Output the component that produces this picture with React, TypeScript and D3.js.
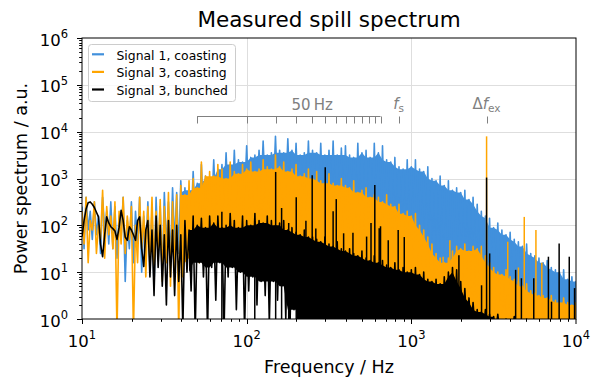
import React, { useEffect, useRef } from 'react'
import * as d3 from 'd3'

const binFreqs = [
  10, 10.59, 11.22, 11.89, 12.59, 13.34, 14.13, 14.96,
  15.85, 16.79, 17.78, 18.84, 19.95, 21.13, 22.39, 23.71,
  25.12, 26.61, 28.18, 29.85, 31.62, 33.5, 35.48, 37.58,
  39.81, 42.17, 44.67, 47.32, 50.12, 53.09, 56.23, 59.57,
  63.1, 66.83, 70.79, 74.99, 79.43, 84.14, 89.13, 94.41,
  100, 105.9, 112.2, 118.9, 125.9, 133.4, 141.3, 149.6,
  158.5, 167.9, 177.8, 188.4, 199.5, 211.3, 223.9, 237.1,
  251.2, 266.1, 281.8, 298.5, 316.2, 335, 354.8, 375.8,
  398.1, 421.7, 446.7, 473.2, 501.2, 530.9, 562.3, 595.7,
  631, 668.3, 707.9, 749.9, 794.3, 841.4, 891.3, 944.1,
  1000, 1059, 1122, 1189, 1259, 1334, 1413, 1496,
  1585, 1679, 1778, 1884, 1995, 2113, 2239, 2371,
  2512, 2661, 2818, 2985, 3162, 3350, 3548, 3758,
  3981, 4217, 4467, 4732, 5012, 5309, 5623, 5957,
  6310, 6683, 7079, 7499, 7943, 8414, 8913, 9441,
  10000,
]

// log10(power), upper / lower edge of the trace in each bin
const blueHi = [
  2.4, 2.6, 2.3, 2.5, 2.2, 2.6, 2.3, 2.5,
  2.4, 2.2, 2.6, 2.1, 2.5, 2.3, 2.6, 2.2,
  2.5, 2.3, 2.6, 2.4, 2.7, 2.5, 2.8, 2.7,
  2.95, 2.8, 2.75, 3.15, 2.9, 3.3, 3.05, 3.0,
  3.4, 3.2, 3.3, 3.55, 3.3, 3.6, 3.4, 3.35,
  3.7, 3.45, 3.5, 3.6, 3.8, 3.5, 3.55, 3.9,
  3.6, 3.55, 3.85, 3.6, 3.75, 3.5, 3.55, 3.8,
  3.6, 3.55, 3.75, 3.5, 3.6, 3.8, 3.5, 3.65,
  3.7, 3.5, 3.45, 3.75, 3.55, 3.6, 3.45, 3.75,
  3.55, 3.7, 3.4, 3.35, 3.45, 3.25, 3.2, 3.4,
  3.25, 3.4, 3.2, 3.15, 3.25, 3.0, 2.95, 3.05,
  2.85, 2.95, 2.75, 2.8, 2.7, 2.75, 2.55, 2.6,
  2.45, 2.3, 2.2, 2.15, 1.95, 2.05, 1.9, 1.8,
  1.85, 1.7, 1.65, 1.55, 1.6, 1.4, 1.35, 1.3,
  1.2, 1.25, 1.1, 1.05, 1.0, 1.05, 0.85, 0.9,
  0.8,
]
const blueLo = [
  1.5, 1.9, 1.7, 1.8, 1.4, 1.9, 1.6, 1.5,
  1.3, 1.7, 0.8, 1.5, 1.2, 1.6, 1.0, 1.4,
  1.1, 0.7, 1.3, 0.9, 1.5, 1.2, 1.6, 1.4,
  1.8, 1.9, 2.0, 2.1, 2.1, 2.2, 2.2, 2.3,
  2.3, 2.4, 2.4, 2.5, 2.5, 2.5, 2.6, 2.6,
  2.6, 2.6, 2.7, 2.7, 2.7, 2.7, 2.7, 2.7,
  2.7, 2.7, 2.7, 2.6, 2.6, 2.6, 2.6, 2.5,
  2.5, 2.5, 2.4, 2.4, 2.4, 2.3, 2.3, 2.3,
  2.2, 2.2, 2.2, 2.1, 2.1, 2.0, 2.0, 2.0,
  1.9, 1.9, 1.8, 1.8, 1.7, 1.7, 1.7, 1.6,
  1.6, 1.6, 1.5, 1.4, 1.3, 1.1, 1.0, 0.9,
  0.9, 1.0, 1.1, 1.1, 1.1, 1.1, 1.1, 1.1,
  1.1, 1.0, 0.9, 0.8, 0.7, 0.7, 0.6, 0.6,
  0.5, 0.5, 0.5, 0.4, 0.4, 0.3, 0.3, 0.2,
  0.2, 0.1, 0.1, 0.1, 0.0, 0.0, 0.0, 0.0,
  0.0,
]
const orangeHi = [
  2.3, 2.6, 2.1, 2.5, 2.0, 2.75, 2.4, 2.2,
  2.5, 2.3, 2.6, 2.2, 2.4, 2.0, 2.6, 2.3,
  2.4, 2.6, 2.3, 2.55, 2.4, 2.7, 2.5, 2.65,
  2.85, 2.65, 2.95, 3.0, 2.8, 3.35, 3.05, 3.15,
  3.05, 3.3, 3.2, 3.0, 3.35, 3.15, 3.1, 3.3,
  3.2, 3.35, 3.15, 3.2, 3.4, 3.25, 3.2, 3.5,
  3.25, 3.35, 3.15, 3.2, 3.3, 3.05, 3.1, 3.2,
  3.0, 3.15, 2.95, 2.9, 3.1, 2.9, 2.85, 3.0,
  2.85, 2.8, 2.95, 2.7, 2.75, 2.8, 2.6, 2.65,
  2.6, 2.5, 2.65, 2.45, 2.4, 2.45, 2.25, 2.3,
  2.2, 2.25, 2.0, 1.9, 1.75, 1.6, 1.4, 1.3,
  1.2, 1.3, 1.45, 1.55, 1.5, 1.6, 1.45, 1.55,
  1.5, 1.55, 1.35, 1.2, 1.1, 1.0, 0.95, 1.05,
  0.9, 0.85, 0.8, 0.7, 0.75, 0.6, 0.55, 0.5,
  0.5, 0.45, 0.5, 0.4, 0.35, 0.45, 0.35, 0.3,
  0.35,
]
const orangeLo = [
  1.6, 1.2, 1.9, 1.4, 1.7, 1.3, 1.8, 1.5,
  -0.3, 1.6, 1.4, 1.7, -0.3, 1.2, 1.5, 0.9,
  1.3, 1.0, 1.4, 0.8, 1.2, 0.7, 1.0, -0.3,
  0.9, 1.2, 1.0, 1.3, 1.2, 1.4, 1.3, 1.5,
  1.4, 1.5, 1.4, 1.6, 1.5, 1.6, 1.5, 1.6,
  1.6, 1.6, 1.6, 1.6, 1.6, 1.6, 1.5, 1.5,
  1.5, 1.4, 1.4, 1.3, 1.3, 1.2, 1.2, 1.1,
  1.1, 1.0, 1.0, 0.9, 0.9, 0.8, 0.8, 0.7,
  0.7, 0.6, 0.6, 0.5, 0.5, 0.4, 0.4, 0.3,
  0.3, 0.2, 0.2, 0.1, 0.1, 0.0, 0.0, 0.0,
  0.0, 0.0, -0.1, -0.1, -0.2, -0.2, -0.3, -0.3,
  -0.3, -0.3, -0.3, -0.3, -0.3, -0.3, -0.3, -0.3,
  -0.3, -0.3, -0.3, -0.3, -0.3, -0.3, -0.3, -0.3,
  -0.3, -0.3, -0.3, -0.3, -0.3, -0.3, -0.3, -0.3,
  -0.3, -0.3, -0.3, -0.3, -0.3, -0.3, -0.3, -0.3,
  -0.3,
]
const blackHi = [
  1.76, 2.35, 2.5, 2.38, 2.18, 1.33, 2.18, 1.97,
  1.88, 1.95, 2.1, 1.68, 1.9, 1.68, 2.18, 1.12,
  2.1, 1.9, 2.2, 2.0, 1.8, 2.1, 1.9, 2.0,
  1.8, 2.1, 1.9, 2.2, 2.0, 2.15, 1.95, 2.2,
  2.05, 2.2, 1.95, 2.0, 2.25, 2.1, 1.95, 2.2,
  2.1, 2.0, 2.25, 2.1, 2.05, 2.2, 2.1, 2.0,
  2.05, 2.1, 1.9, 1.95, 1.85, 1.8, 1.9, 1.75,
  1.75, 1.7, 1.65, 1.75, 1.6, 1.55, 1.65, 1.5,
  1.45, 1.5, 1.4, 1.35, 1.45, 1.3, 1.25, 1.35,
  1.2, 1.25, 1.15, 1.1, 1.2, 1.05, 1.1, 1.0,
  1.05, 1.1, 0.95, 1.0, 0.85, 0.8, 0.85, 0.75,
  0.9, 1.0, 1.1, 1.05, 0.8, 0.65, 0.45, 0.35,
  0.2, 0.15, 0.2, 0.1, 0.05, 0.1, -0.3, 0.0,
  -0.3, 0.05, -0.3, -0.3, 0.0, -0.3, -0.3, -0.3,
  -0.3, -0.3, -0.3, -0.3, -0.3, -0.3, -0.3, -0.3,
  -0.3,
]
const blackLo = [
  2.1, 2.48, 2.45, 2.28, 1.6, 1.8, 2.05, 1.93,
  1.7, 2.32, 1.75, 1.97, 1.8, 2.1, 1.5, 1.9,
  0.9, 0.5, 1.1, 0.7, 0.3, 0.9, 0.5, 0.8,
  -0.2, 1.0, 0.6, -0.3, 1.2, 0.9, -0.3, 1.1,
  0.4, 1.2, -0.3, 0.9, 1.1, 0.2, 1.0, -0.3,
  0.6, 0.9, 0.3, 0.8, 0.5, -0.1, 0.8, 0.4,
  0.7, 0.0, -0.3, 0.2, -0.3, -0.3, -0.3, -0.3,
  -0.3, -0.3, -0.3, -0.3, -0.3, -0.3, -0.3, -0.3,
  -0.3, -0.3, -0.3, -0.3, -0.3, -0.3, -0.3, -0.3,
  -0.3, -0.3, -0.3, -0.3, -0.3, -0.3, -0.3, -0.3,
  -0.3, -0.3, -0.3, -0.3, -0.3, -0.3, -0.3, -0.3,
  -0.3, -0.3, -0.3, -0.3, -0.3, -0.3, -0.3, -0.3,
  -0.3, -0.3, -0.3, -0.3, -0.3, -0.3, -0.3, -0.3,
  -0.3, -0.3, -0.3, -0.3, -0.3, -0.3, -0.3, -0.3,
  -0.3, -0.3, -0.3, -0.3, -0.3, -0.3, -0.3, -0.3,
  -0.3,
]

// single narrow lines sticking out of the traces: [Hz, log10 peak]
const orangeSpikes = [
  [1560, 1.33], [1714, 1.68], [2864, 3.9], [3850, 1.65], [4470, 1.1],
  [4850, 2.18], [5710, 1.9], [6200, 1.2],
]
const blackSpikes = [
  [70.7, 2.29], [112, 2.1], [150, 3.14], [163, 2.37], [180, 2.05], [200, 2.6],
  [229, 2.1], [250, 3.07], [263, 1.93], [300, 3.24], [335, 2.3], [350, 2.56],
  [388, 1.83], [442, 1.84], [535, 1.76], [569, 2.05], [600, 2.86], [638, 1.94],
  [650, 1.98], [724, 1.68], [832, 1.9], [906, 1.75], [1945, 1.36], [2670, 0.72],
  [2864, 3.02], [2990, 1.4], [4300, 1.05], [4660, 0.87], [5540, 0.87],
  [6800, 1.33], [7100, 0.37], [7900, 1.61], [9100, 1.33], [9800, 0.66],
]

const legendNames = ['Signal 1, coasting', 'Signal 3, coasting', 'Signal 3, bunched']
const colors = ['#4190dc', '#ffa500', '#000000']

// 50 Hz harmonics marked above the spectrum
const harmonics = [50, 100, 150, 200, 250, 300, 350, 400, 450, 500, 550, 600, 650]
const fSync = 837
const fEx = 2864

const yTicks = [1, 10, 100, 1e3, 1e4, 1e5, 1e6]
const xTicks = [10, 100, 1e3, 1e4]

const App = () => {
  const ref = useRef<SVGSVGElement>(null)

  useEffect(() => {
    const svg = d3.select(ref.current)
    svg.selectAll('*').remove()

    const left = 82, right = 576, top = 38, bottom = 319
    const x = d3.scaleLog().domain([10, 1e4]).range([left, right])
    const y = d3.scaleLog().domain([1, 1e6]).range([bottom, top])
    const font = 'DejaVu Sans, sans-serif'

    svg.append('defs').append('clipPath').attr('id', 'plot-clip')
      .append('rect').attr('x', left).attr('y', top)
      .attr('width', right - left).attr('height', bottom - top)

    // grid
    const grid = svg.append('g').attr('stroke', '#dedede').attr('stroke-width', 1)
    ;[100, 1000].forEach(v => grid.append('line')
      .attr('x1', Math.round(x(v)) + 0.5).attr('x2', Math.round(x(v)) + 0.5)
      .attr('y1', top).attr('y2', bottom))
    ;[10, 100, 1e3, 1e4, 1e5].forEach(v => grid.append('line')
      .attr('y1', Math.round(y(v)) + 0.5).attr('y2', Math.round(y(v)) + 0.5)
      .attr('x1', left).attr('x2', right))

    const plot = svg.append('g').attr('clip-path', 'url(#plot-clip)')

    const series = [
      { hi: blueHi, lo: blueLo, fillFrom: 24, spikes: [] as number[][] },
      { hi: orangeHi, lo: orangeLo, fillFrom: 24, spikes: orangeSpikes },
      { hi: blackHi, lo: blackLo, fillFrom: 26, spikes: blackSpikes },
    ]

    series.forEach((s, k) => {
      const color = colors[k]
      const n = binFreqs.length
      const pts: [number, number][] = []
      binFreqs.forEach((f, i) => {
        const mid = i < n - 1 ? Math.sqrt(f * binFreqs[i + 1]) : f * 1.03
        pts.push([x(f), y(10 ** s.hi[i])])
        pts.push([x(mid), y(10 ** s.lo[i])])
      })
      // dense part: solid body under the spikes of the trace
      const near = (arr: number[], i: number) =>
        [arr[Math.max(0, i - 1)], arr[i], arr[Math.min(n - 1, i + 1)]]
      const idx = d3.range(s.fillFrom, n)
      const bodyTop = (i: number) => d3.min(near(s.hi, i))!
      const bodyBot = (i: number) => Math.min(d3.max(near(s.lo, i))!, bodyTop(i))
      const area = d3.area<number>()
        .x(i => x(binFreqs[i]))
        .y0(i => y(10 ** bodyBot(i)))
        .y1(i => y(10 ** bodyTop(i)))
      plot.append('path').attr('d', area(idx)).attr('fill', color)
      plot.append('path').attr('d', d3.line()(pts))
        .attr('fill', 'none').attr('stroke', color)
        .attr('stroke-width', 1.6).attr('stroke-linejoin', 'round')
      plot.selectAll(null).data(s.spikes).join('line')
        .attr('x1', d => x(d[0])).attr('x2', d => x(d[0]))
        .attr('y1', bottom + 5).attr('y2', d => y(10 ** d[1]))
        .attr('stroke', color).attr('stroke-width', 1.5)
    })

    // axes ticks
    const axes = svg.append('g').attr('stroke', '#000').attr('stroke-width', 1)
    for (let e = 0; e < 6; e++) {
      for (let m = 1; m < 10; m++) {
        const v = m * 10 ** e
        const yy = Math.round(y(v)) + 0.5
        axes.append('line').attr('x1', left - (m === 1 ? 5 : 2.8)).attr('x2', left)
          .attr('y1', yy).attr('y2', yy)
      }
    }
    axes.append('line').attr('x1', left - 5).attr('x2', left).attr('y1', top + 0.5).attr('y2', top + 0.5)
    for (let e = 1; e < 4; e++) {
      for (let m = 1; m < 10; m++) {
        const v = m * 10 ** e
        const xx = Math.round(x(v)) + 0.5
        axes.append('line').attr('y1', bottom).attr('y2', bottom + (m === 1 ? 5 : 2.8))
          .attr('x1', xx).attr('x2', xx)
      }
    }
    axes.append('line').attr('y1', bottom).attr('y2', bottom + 5).attr('x1', right).attr('x2', right)
    axes.append('rect').attr('x', left).attr('y', top)
      .attr('width', right - left).attr('height', bottom - top).attr('fill', 'none')

    // tick labels
    yTicks.forEach(v => {
      const t = svg.append('text').attr('x', 68).attr('y', y(v) + 7.5)
        .attr('text-anchor', 'end').attr('font-family', font).attr('font-size', 16.5)
      t.append('tspan').text('10')
      t.append('tspan').attr('dy', -7.5).attr('font-size', 11.5).text(String(Math.round(Math.log10(v))))
    })
    xTicks.forEach(v => {
      const t = svg.append('text').attr('x', x(v)).attr('y', 346.7)
        .attr('text-anchor', 'middle').attr('font-family', font).attr('font-size', 16.5)
      t.append('tspan').text('10')
      t.append('tspan').attr('dy', -7.5).attr('font-size', 11.5).text(String(Math.round(Math.log10(v))))
    })

    svg.append('text').attr('x', (left + right) / 2).attr('y', 27)
      .attr('text-anchor', 'middle').attr('font-family', font).attr('font-size', 21.5)
      .text('Measured spill spectrum')
    svg.append('text').attr('x', (left + right) / 2).attr('y', 373)
      .attr('text-anchor', 'middle').attr('font-family', font).attr('font-size', 17.5)
      .text('Frequency / Hz')
    svg.append('text').attr('transform', `translate(26.5,${(top + bottom) / 2}) rotate(-90)`)
      .attr('text-anchor', 'middle').attr('font-family', font).attr('font-size', 17.5)
      .text('Power spectrum / a.u.')

    // harmonic markers
    const gray = '#808080'
    const ann = svg.append('g').attr('stroke', gray).attr('stroke-width', 1)
    ann.append('line').attr('x1', x(50)).attr('x2', x(650)).attr('y1', 116.5).attr('y2', 116.5)
    harmonics.forEach(f => ann.append('line')
      .attr('x1', Math.round(x(f)) + 0.5).attr('x2', Math.round(x(f)) + 0.5)
      .attr('y1', 116.5).attr('y2', 123.5))
    ;[fSync, fEx].forEach(f => ann.append('line')
      .attr('x1', Math.round(x(f)) + 0.5).attr('x2', Math.round(x(f)) + 0.5)
      .attr('y1', 116.5).attr('y2', 123.5))
    svg.append('text').attr('x', x(250)).attr('y', 110).attr('text-anchor', 'middle')
      .attr('font-family', font).attr('font-size', 15).attr('fill', gray).text('50\u2009Hz')
    const fs = svg.append('text').attr('x', x(fSync)).attr('y', 109).attr('text-anchor', 'middle')
      .attr('font-family', font).attr('font-size', 15).attr('fill', gray)
    fs.append('tspan').attr('font-style', 'italic').text('f')
    fs.append('tspan').attr('font-size', 10.5).attr('dy', 2.5).text('s')
    const fe = svg.append('text').attr('x', x(fEx)).attr('y', 109).attr('text-anchor', 'middle')
      .attr('font-family', font).attr('font-size', 15).attr('fill', gray)
    fe.append('tspan').text('\u0394')
    fe.append('tspan').attr('font-style', 'italic').text('f')
    fe.append('tspan').attr('font-size', 10.5).attr('dy', 2.5).text('ex')

    // legend
    const lg = svg.append('g')
    lg.append('rect').attr('x', 88.5).attr('y', 44.5).attr('width', 147).attr('height', 57)
      .attr('rx', 3).attr('fill', '#fff').attr('fill-opacity', 0.8)
      .attr('stroke', '#cccccc').attr('stroke-width', 1)
    legendNames.forEach((name, k) => {
      const cy = 54.3 + k * 17.6
      lg.append('line').attr('x1', 92).attr('x2', 104).attr('y1', cy).attr('y2', cy)
        .attr('stroke', colors[k]).attr('stroke-width', 2.2)
      lg.append('text').attr('x', 116.5).attr('y', cy + 5.4)
        .attr('font-family', font).attr('font-size', 12.4).text(name)
    })
  }, [])

  return <svg ref={ref} width={591} height={379}
    style={{ position: 'fixed', left: 0, top: 0, background: '#fff' }} />
}

export default App
